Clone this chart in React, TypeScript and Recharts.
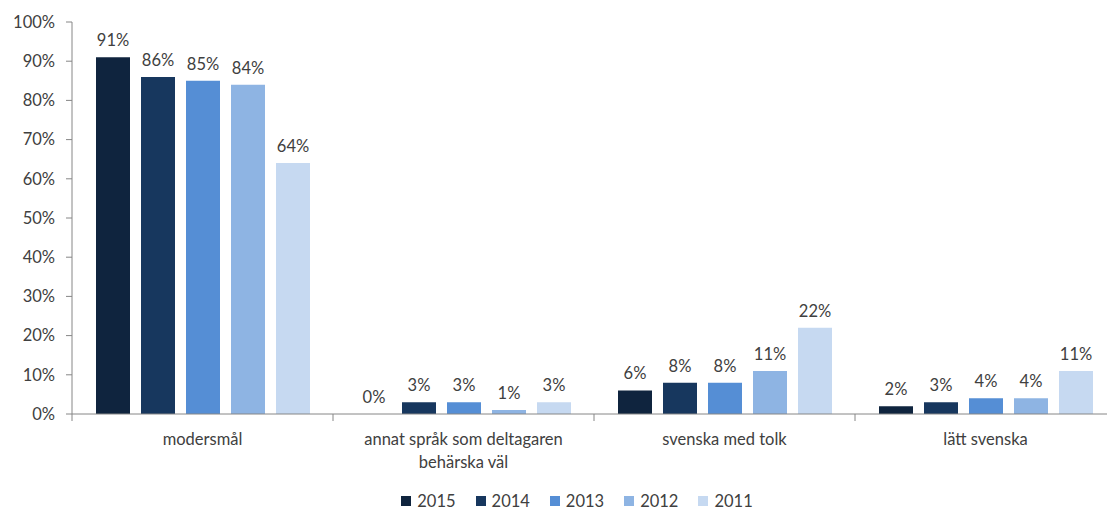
import React from 'react';
import { BarChart, Bar, XAxis, YAxis, Legend, LabelList, Text } from 'recharts';

const categories = [
  'modersmål',
  'annat språk som deltagaren behärska väl',
  'svenska med tolk',
  'lätt svenska',
];
const years = ['2015', '2014', '2013', '2012', '2011'];
const v2015 = [91, 0, 6, 2];
const v2014 = [86, 3, 8, 3];
const v2013 = [85, 3, 8, 4];
const v2012 = [84, 1, 11, 4];
const v2011 = [64, 3, 22, 11];
const yTicks = [0, 10, 20, 30, 40, 50, 60, 70, 80, 90, 100];

const COLORS: Record<string, string> = {
  '2015': '#0f243e',
  '2014': '#17375e',
  '2013': '#558ed5',
  '2012': '#8eb4e3',
  '2011': '#c6d9f1',
};

const seriesValues: Record<string, number[]> = {
  '2015': v2015,
  '2014': v2014,
  '2013': v2013,
  '2012': v2012,
  '2011': v2011,
};

const data = categories.map((name, i) => {
  const row: Record<string, string | number> = { name };
  years.forEach((y) => {
    row[y] = seriesValues[y][i];
  });
  return row;
});

const FONT = 'Lato, "Open Sans", sans-serif';
const FS = 16.5;
const TEXT = '#404040';
const AXIS = '#868686';
const CHART_W = 1120;
const Y_AXIS_W = 72;
const MARGIN_R = 4;
const PLOT_W = CHART_W - Y_AXIS_W - MARGIN_R;
const TICK_LEN = 7;

function CategoryTick(props: any) {
  const { x, y, payload, index } = props;
  const band = PLOT_W / categories.length;
  const top = y - TICK_LEN;
  return (
    <g>
      <line x1={x - band / 2} x2={x - band / 2} y1={top} y2={y} stroke={AXIS} />
      {index === categories.length - 1 && (
        <line x1={x + band / 2} x2={x + band / 2} y1={top} y2={y} stroke={AXIS} />
      )}
      <Text
        x={x}
        y={y + 12}
        width={225}
        textAnchor="middle"
        verticalAnchor="start"
        lineHeight={23}
        fill={TEXT}
        fontSize={FS}
        fontFamily={FONT}
      >
        {payload.value}
      </Text>
    </g>
  );
}

function ValueLabel(props: any) {
  const { x, y, width, value } = props;
  if (value == null) return null;
  return (
    <text
      x={x + width / 2}
      y={y - 11}
      textAnchor="middle"
      fill={TEXT}
      fontSize={FS}
      fontFamily={FONT}
    >
      {`${value}%`}
    </text>
  );
}

function YearLegend() {
  return (
    <div style={{ display: 'flex', justifyContent: 'center', gap: 20, fontFamily: FONT, fontSize: FS, lineHeight: '20px', color: TEXT }}>
      {years.map((y) => (
        <div key={y} style={{ display: 'flex', alignItems: 'center' }}>
          <span style={{ display: 'inline-block', width: 10, height: 10, background: COLORS[y], marginRight: 6 }} />
          <span>{y}</span>
        </div>
      ))}
    </div>
  );
}

export default function App() {
  return (
    <div style={{ position: 'absolute', left: 0, top: 0, width: 1107, height: 512, overflow: 'hidden', background: '#fff' }}>
      <BarChart
        width={CHART_W}
        height={512}
        data={data}
        margin={{ top: 22, right: MARGIN_R, left: 0, bottom: 0 }}
        barCategoryGap={24}
        barGap={11}
      >
        <YAxis
          width={Y_AXIS_W}
          domain={[0, 100]}
          ticks={yTicks}
          interval={0}
          tickFormatter={(v) => `${v}%`}
          axisLine={{ stroke: AXIS }}
          tickLine={{ stroke: AXIS }}
          tickSize={6}
          tickMargin={11}
          tick={{ fill: TEXT, fontSize: FS, fontFamily: FONT }}
        />
        <XAxis
          dataKey="name"
          height={78}
          axisLine={{ stroke: AXIS }}
          tickLine={false}
          tickSize={TICK_LEN}
          tickMargin={0}
          interval={0}
          tick={<CategoryTick />}
        />
        <Legend
          verticalAlign="bottom"
          content={<YearLegend />}
          wrapperStyle={{ left: 397, width: 360, top: 491, bottom: 'auto', height: 20 }}
        />
        {years.map((y) => (
          <Bar key={y} dataKey={y} fill={COLORS[y]} minPointSize={0.05} isAnimationActive={false}>
            <LabelList dataKey={y} content={<ValueLabel />} />
          </Bar>
        ))}
      </BarChart>
    </div>
  );
}
